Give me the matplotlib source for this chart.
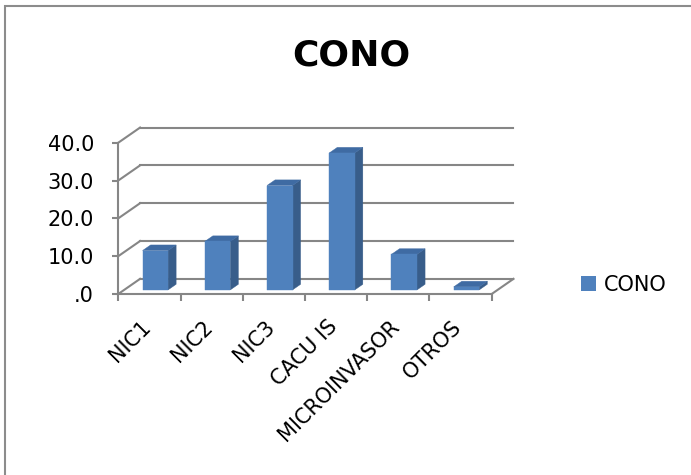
import matplotlib
matplotlib.use("Agg")
import matplotlib.pyplot as plt
from matplotlib.patches import Polygon, Rectangle, Patch

categorias = ['NIC1', 'NIC2', 'NIC3', 'CACU IS', 'MICROINVASOR', 'OTROS']
valores = [10.4, 12.8, 27.6, 36.2, 9.4, 0.8]
ticks_y = [0, 10, 20, 30, 40]
etiquetas_y = ['.0', '10.0', '20.0', '30.0', '40.0']

GRIS = '#868686'
AZUL = '#4F81BD'
AZUL_LADO = '#385D8A'
AZUL_TOPE = '#3F6BA3'

# profundidad del efecto 3D (en unidades de datos)
DX, DY = 0.35, 4.0
D0, DD = 0.27, 0.37     # inicio y grosor de la barra en profundidad
ANCHO = 0.41

fig = plt.figure(figsize=(6.91, 4.75), dpi=100)
ax = fig.add_axes([0.1712, 0.3811, 0.5404, 0.3185])
ax.set_xlim(0, len(categorias))
ax.set_ylim(0, 40)

# paredes: rejilla del fondo y diagonales de la pared izquierda
for v in ticks_y:
    ax.plot([DX, len(categorias) + DX], [v + DY, v + DY], color=GRIS, lw=1.5,
            clip_on=False, zorder=1)
    ax.plot([0, DX], [v, v + DY], color=GRIS, lw=1.5, clip_on=False, zorder=1)
ax.plot([len(categorias), len(categorias) + DX], [0, DY], color=GRIS, lw=1.5,
        clip_on=False, zorder=1)

# barras con cara frontal, lateral y superior
for i, v in enumerate(valores):
    xl = i + 0.5 - ANCHO / 2 + D0 * DX
    xr = xl + ANCHO
    y0 = D0 * DY
    ddx, ddy = DD * DX, DD * DY
    frente = [(xl, y0), (xr, y0), (xr, y0 + v), (xl, y0 + v)]
    lado = [(xr, y0), (xr + ddx, y0 + ddy), (xr + ddx, y0 + ddy + v), (xr, y0 + v)]
    tope = [(xl, y0 + v), (xr, y0 + v), (xr + ddx, y0 + v + ddy), (xl + ddx, y0 + v + ddy)]
    for pts, c in [(lado, AZUL_LADO), (tope, AZUL_TOPE), (frente, AZUL)]:
        ax.add_patch(Polygon(pts, closed=True, facecolor=c, edgecolor=c, lw=0.3,
                             clip_on=False, zorder=3))

# ejes
for s in ['top', 'right']:
    ax.spines[s].set_visible(False)
for s in ['left', 'bottom']:
    ax.spines[s].set_color(GRIS)
    ax.spines[s].set_linewidth(1.5)
ax.spines['bottom'].set_zorder(2)
ax.set_yticks(ticks_y)
ax.set_yticklabels(etiquetas_y, fontsize=15)
ax.tick_params(axis='y', direction='out', length=4.5, width=1.5, color=GRIS, pad=13)
ax.set_xticks([])
ax.set_xticks(range(len(categorias) + 1), minor=True)
ax.tick_params(axis='x', which='minor', direction='out', length=5, width=1.5, color=GRIS)
ax.patch.set_visible(False)

for i, nombre in enumerate(categorias):
    ax.text(i + 0.58, -6.0, nombre, rotation=45, ha='right', va='top', fontsize=15)

fig.text(351 / 691, 1 - 55 / 475, 'CONO', fontsize=26, fontweight='bold',
         ha='center', va='center')

fig.legend(handles=[Patch(facecolor=AZUL, label='CONO')], loc='center left',
           bbox_to_anchor=(581 / 691, 1 - 285 / 475), frameon=False, fontsize=15,
           handlelength=0.72, handleheight=0.72, handletextpad=0.38,
           borderpad=0, borderaxespad=0)

# marco del gráfico
fig.add_artist(Rectangle((5.5 / 691, -0.1), 1.2, 1.1 - 6.3 / 475, fill=False,
                         edgecolor='#8C8C8C', lw=1.5, transform=fig.transFigure))

fig.savefig('out.png', dpi=100)
